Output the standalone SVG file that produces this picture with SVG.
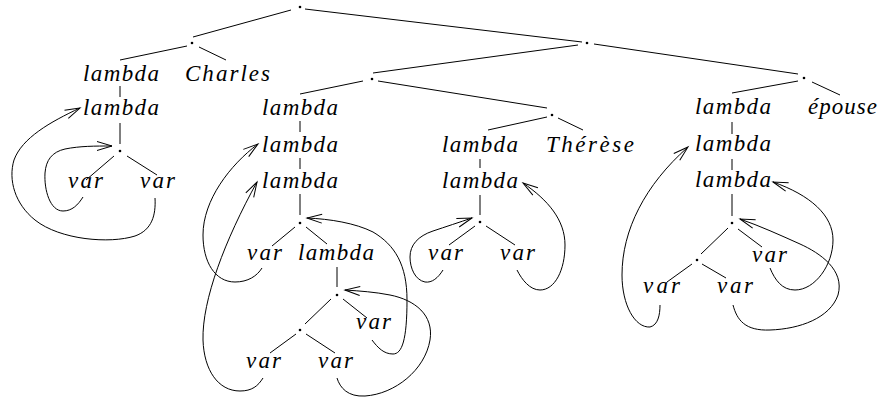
<svg xmlns="http://www.w3.org/2000/svg" width="879" height="400" viewBox="0 0 879 400">
<style>
.t{font-family:"Liberation Serif","Times New Roman",serif;font-style:italic;font-size:23px;fill:#000}
.e{stroke:#000;stroke-width:1;fill:none}
.c{stroke:#000;stroke-width:1;fill:none;marker-end:url(#ah)}
.d{fill:#000}
</style>
<defs>
<marker id="ah" markerUnits="userSpaceOnUse" markerWidth="20" markerHeight="12" viewBox="-16 -6 18 12" refX="0" refY="0" orient="auto">
<path d="M-15,-4.5 L0,0 L-15,4.5" stroke="#000" stroke-width="1" fill="none"/>
</marker>
</defs>
<rect width="879" height="400" fill="#fff"/>
<g id="edges">
<line class="e" x1="291" y1="10" x2="193" y2="37"/>
<line class="e" x1="305" y1="9" x2="582" y2="42"/>
<line class="e" x1="187" y1="46" x2="120" y2="60"/>
<line class="e" x1="199" y1="47" x2="226" y2="60"/>
<line class="e" x1="120" y1="86" x2="120" y2="97"/>
<line class="e" x1="120" y1="123" x2="120" y2="144"/>
<line class="e" x1="114" y1="156" x2="86" y2="180"/>
<line class="e" x1="127" y1="156" x2="157" y2="175"/>
<line class="e" x1="578" y1="45" x2="373" y2="73"/>
<line class="e" x1="594" y1="44" x2="798" y2="74"/>
<line class="e" x1="363" y1="81" x2="300" y2="94"/>
<line class="e" x1="378" y1="81" x2="547" y2="108"/>
<line class="e" x1="300" y1="121" x2="300" y2="132"/>
<line class="e" x1="300" y1="158" x2="300" y2="169"/>
<line class="e" x1="300" y1="194" x2="300" y2="215"/>
<line class="e" x1="295" y1="227" x2="272" y2="246"/>
<line class="e" x1="306" y1="227" x2="327" y2="244"/>
<line class="e" x1="337" y1="267" x2="337" y2="287"/>
<line class="e" x1="331" y1="299" x2="305" y2="324"/>
<line class="e" x1="343" y1="299" x2="367" y2="318"/>
<line class="e" x1="296" y1="334" x2="270" y2="353"/>
<line class="e" x1="306" y1="334" x2="335" y2="353"/>
<line class="e" x1="547" y1="117" x2="488" y2="130"/>
<line class="e" x1="558" y1="118" x2="583" y2="130"/>
<line class="e" x1="480" y1="159" x2="480" y2="168"/>
<line class="e" x1="480" y1="195" x2="480" y2="215"/>
<line class="e" x1="475" y1="226" x2="449" y2="245"/>
<line class="e" x1="486" y1="226" x2="515" y2="245"/>
<line class="e" x1="798" y1="81" x2="732" y2="93"/>
<line class="e" x1="812" y1="82" x2="840" y2="95"/>
<line class="e" x1="732" y1="122" x2="732" y2="134"/>
<line class="e" x1="732" y1="159" x2="732" y2="170"/>
<line class="e" x1="732" y1="194" x2="732" y2="216"/>
<line class="e" x1="728" y1="228" x2="701" y2="254"/>
<line class="e" x1="738" y1="229" x2="762" y2="247"/>
<line class="e" x1="692" y1="264" x2="667" y2="282"/>
<line class="e" x1="702" y1="264" x2="726" y2="278"/>
<path class="c" d="M83,197 C78,205 72,211 63,211 C50,211 44,190 45,173 C46,160 52,152 65,149 C80,146 95,146 112,146"/>
<path class="c" d="M155,198 C156,215 152,230 135,236 C110,244 60,240 35,220 C15,204 8,180 14,160 C22,138 50,122 80,108"/>
<path class="c" d="M262,268 C257,276 248,282 235,282 C215,282 203,262 203,235 C203,200 230,165 258,144"/>
<path class="c" d="M263,378 C258,386 252,391 240,391 C218,391 204,370 203,340 C202,300 225,240 257,182"/>
<path class="c" d="M372,340 C378,348 384,354 393,354 C402,354 407,340 407,300 C407,265 395,245 373,232 C355,223 330,219 307,218"/>
<path class="c" d="M337,378 C340,388 348,397 365,396 C395,394 425,370 430,340 C434,315 415,300 390,295 C375,292 360,291 345,290"/>
<path class="c" d="M443,270 C438,278 432,283 425,282 C415,280 410,268 410,257 C410,245 418,236 433,231 C445,227 460,222 472,218"/>
<path class="c" d="M517,270 C522,280 530,290 540,290 C555,290 565,270 565,245 C565,220 548,200 523,183"/>
<path class="c" d="M660,305 C660,315 658,325 650,327 C635,328 622,305 622,275 C622,230 645,185 688,147"/>
<path class="c" d="M770,268 C775,280 782,290 795,290 C815,290 833,265 833,240 C833,215 810,195 773,182"/>
<path class="c" d="M733,305 C737,320 745,331 770,330 C800,329 830,318 838,295 C845,270 820,253 800,244 C780,235 760,226 740,219"/>
</g>
<g id="n-root"><circle class="d" cx="300" cy="7" r="1.3"/></g>
<g id="n-A"><circle class="d" cx="192" cy="43" r="1.3"/></g>
<g id="n-A-lambda1"><text class="t" x="83" y="81" textLength="76" lengthAdjust="spacing">lambda</text></g>
<g id="n-A-charles"><text class="t" x="185" y="81" textLength="85" lengthAdjust="spacing">Charles</text></g>
<g id="n-A-lambda2"><text class="t" x="83" y="115" textLength="76" lengthAdjust="spacing">lambda</text></g>
<g id="n-A-dot"><circle class="d" cx="120" cy="151" r="1.3"/></g>
<g id="n-A-var1"><text class="t" x="68" y="188" textLength="35" lengthAdjust="spacing">var</text></g>
<g id="n-A-var2"><text class="t" x="140" y="188" textLength="35" lengthAdjust="spacing">var</text></g>
<g id="n-B"><circle class="d" cx="587" cy="43" r="1.3"/></g>
<g id="n-C"><circle class="d" cx="372" cy="79" r="1.3"/></g>
<g id="n-C-lambda1"><text class="t" x="262" y="115" textLength="76" lengthAdjust="spacing">lambda</text></g>
<g id="n-C-lambda2"><text class="t" x="262" y="152" textLength="76" lengthAdjust="spacing">lambda</text></g>
<g id="n-C-lambda3"><text class="t" x="262" y="188" textLength="76" lengthAdjust="spacing">lambda</text></g>
<g id="n-F"><circle class="d" cx="300" cy="223" r="1.3"/></g>
<g id="n-F-var"><text class="t" x="247" y="260" textLength="35" lengthAdjust="spacing">var</text></g>
<g id="n-F-lambda"><text class="t" x="298" y="260" textLength="76" lengthAdjust="spacing">lambda</text></g>
<g id="n-G"><circle class="d" cx="337" cy="295" r="1.3"/></g>
<g id="n-G-var"><text class="t" x="356" y="329" textLength="35" lengthAdjust="spacing">var</text></g>
<g id="n-H"><circle class="d" cx="300" cy="330" r="1.3"/></g>
<g id="n-H-var1"><text class="t" x="246" y="368" textLength="35" lengthAdjust="spacing">var</text></g>
<g id="n-H-var2"><text class="t" x="318" y="368" textLength="35" lengthAdjust="spacing">var</text></g>
<g id="n-E"><circle class="d" cx="552" cy="115" r="1.3"/></g>
<g id="n-E-lambda1"><text class="t" x="442" y="152" textLength="76" lengthAdjust="spacing">lambda</text></g>
<g id="n-E-therese"><text class="t" x="546" y="152" textLength="88" lengthAdjust="spacing">Thérèse</text></g>
<g id="n-E-lambda2"><text class="t" x="442" y="188" textLength="76" lengthAdjust="spacing">lambda</text></g>
<g id="n-E-dot"><circle class="d" cx="480" cy="222" r="1.3"/></g>
<g id="n-E-var1"><text class="t" x="428" y="260" textLength="35" lengthAdjust="spacing">var</text></g>
<g id="n-E-var2"><text class="t" x="500" y="260" textLength="35" lengthAdjust="spacing">var</text></g>
<g id="n-D"><circle class="d" cx="804" cy="78" r="1.3"/></g>
<g id="n-D-lambda1"><text class="t" x="695" y="114" textLength="76" lengthAdjust="spacing">lambda</text></g>
<g id="n-D-epouse"><text class="t" x="808" y="114" textLength="69" lengthAdjust="spacing">épouse</text></g>
<g id="n-D-lambda2"><text class="t" x="695" y="151" textLength="76" lengthAdjust="spacing">lambda</text></g>
<g id="n-D-lambda3"><text class="t" x="695" y="187" textLength="76" lengthAdjust="spacing">lambda</text></g>
<g id="n-I"><circle class="d" cx="732" cy="223" r="1.3"/></g>
<g id="n-I-var"><text class="t" x="752" y="262" textLength="35" lengthAdjust="spacing">var</text></g>
<g id="n-J"><circle class="d" cx="697" cy="260" r="1.3"/></g>
<g id="n-J-var1"><text class="t" x="643" y="293" textLength="37" lengthAdjust="spacing">var</text></g>
<g id="n-J-var2"><text class="t" x="717" y="293" textLength="36" lengthAdjust="spacing">var</text></g>
</svg>
